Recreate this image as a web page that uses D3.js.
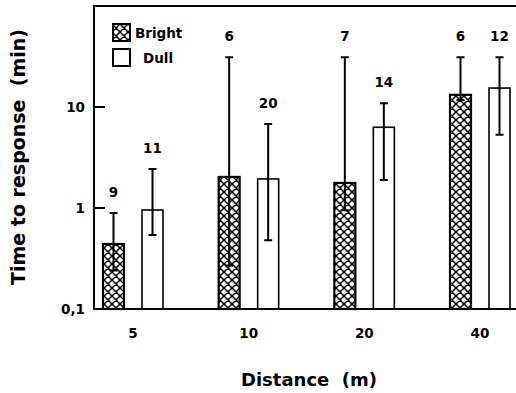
<!DOCTYPE html>
<html>
<head>
<meta charset="utf-8">
<script src="https://cdn.jsdelivr.net/npm/d3@7"></script>
<style>
  html, body { margin: 0; padding: 0; background: #fff; }
  text { font-family: "DejaVu Sans", sans-serif; font-weight: bold; fill: #000; }
</style>
</head>
<body>
<svg id="chart"></svg>
<script>
const distances = ["5", "10", "20", "40"];
const brightMean = [0.44, 2.03, 1.77, 13.2];
const brightLow = [0.24, 0.27, 0.95, 11.7];
const brightHigh = [0.89, 31, 31, 31];
const brightN = [9, 6, 7, 6];
const dullMean = [0.955, 1.94, 6.3, 15.4];
const dullLow = [0.54, 0.48, 1.89, 5.3];
const dullHigh = [2.43, 6.8, 10.9, 31];
const dullN = [11, 20, 14, 12];
const yTicks = [0.1, 1, 10];
const yTickLabels = ["0,1", "1", "10"];

const width = 516, height = 393;
const plotLeft = 94, plotTop = 6, plotBottom = 309, plotRight = 520;

const $svg = d3.select("#chart")
  .attr("width", width)
  .attr("height", height)
  .attr("viewBox", [0, 0, width, height]);

// crosshatch for the "Bright" bars
const pat = $svg.append("defs").append("pattern")
  .attr("id", "hatch")
  .attr("patternUnits", "userSpaceOnUse")
  .attr("width", 8)
  .attr("height", 8);
pat.append("rect").attr("width", 8).attr("height", 8).attr("fill", "#fff");
pat.append("path")
  .attr("d", "M0,0L8,8M8,0L0,8M-1,7L1,9M7,-1L9,1M-1,1L1,-1M7,9L9,7")
  .attr("stroke", "#000")
  .attr("stroke-width", 1.5);

const x = d3.scalePoint().domain(distances).range([133, 480]);
const y = d3.scaleLog().domain([0.1, 100]).range([plotBottom, plotTop]);

const series = [
  { key: "Bright", mean: brightMean, low: brightLow, high: brightHigh, n: brightN, dx: -30, fill: "url(#hatch)", sw: 2.2 },
  { key: "Dull", mean: dullMean, low: dullLow, high: dullHigh, n: dullN, dx: 9, fill: "#fff", sw: 1.6 }
];
const barW = 21, capW = 8;

series.forEach(s => {
  const rows = distances.map((d, i) => ({ d, mean: s.mean[i], low: s.low[i], high: s.high[i], n: s.n[i] }));
  const g = $svg.append("g");

  g.selectAll("rect").data(rows).enter().append("rect")
    .attr("x", r => x(r.d) + s.dx)
    .attr("y", r => y(r.mean))
    .attr("width", barW)
    .attr("height", r => plotBottom - y(r.mean))
    .attr("fill", s.fill)
    .attr("stroke", "#000")
    .attr("stroke-width", s.sw);

  const cx = r => x(r.d) + s.dx + barW / 2;
  g.selectAll("path.err").data(rows).enter().append("path")
    .attr("class", "err")
    .attr("fill", "none")
    .attr("stroke", "#000")
    .attr("stroke-width", 2)
    .attr("d", r => {
      const c = cx(r), hi = y(r.high), lo = y(r.low);
      return `M${c},${hi}V${lo}M${c - capW / 2},${hi}H${c + capW / 2}M${c - capW / 2},${lo}H${c + capW / 2}`;
    });

  g.selectAll("text").data(rows).enter().append("text")
    .attr("x", cx)
    .attr("y", r => y(r.high) - 16)
    .attr("text-anchor", "middle")
    .attr("font-size", 13.5)
    .text(r => r.n);
});

// frame
$svg.append("path")
  .attr("d", `M${plotRight},${plotTop}H${plotLeft}V${plotBottom}H${plotRight}`)
  .attr("fill", "none")
  .attr("stroke", "#000")
  .attr("stroke-width", 2);

// y axis ticks (inward) and labels
const yg = $svg.append("g");
yg.selectAll("line").data(yTicks.slice(1)).enter().append("line")
  .attr("x1", plotLeft).attr("x2", plotLeft + 11)
  .attr("y1", d => y(d)).attr("y2", d => y(d))
  .attr("stroke", "#000").attr("stroke-width", 2);
yg.selectAll("text").data(yTicks).enter().append("text")
  .attr("x", 85)
  .attr("y", d => y(d))
  .attr("dy", "0.35em")
  .attr("text-anchor", "end")
  .attr("font-size", 13.5)
  .text((d, i) => yTickLabels[i]);

// x labels
$svg.append("g").selectAll("text").data(distances).enter().append("text")
  .attr("x", d => x(d))
  .attr("y", 338)
  .attr("text-anchor", "middle")
  .attr("font-size", 13.5)
  .text(d => d);

// axis titles
$svg.append("text")
  .attr("x", 309).attr("y", 386)
  .attr("text-anchor", "middle")
  .attr("font-size", 18)
  .attr("xml:space", "preserve")
  .text("Distance  (m)");
$svg.append("text")
  .attr("transform", "translate(25,157) rotate(-90)")
  .attr("text-anchor", "middle")
  .attr("font-size", 19)
  .attr("xml:space", "preserve")
  .text("Time to response  (min)");

// legend
const legend = $svg.append("g");
legend.selectAll("rect").data(series).enter().append("rect")
  .attr("x", 113)
  .attr("y", (s, i) => 24 + i * 25)
  .attr("width", 17).attr("height", 17)
  .attr("fill", s => s.fill)
  .attr("stroke", "#000")
  .attr("stroke-width", 2);
legend.selectAll("text").data(series).enter().append("text")
  .attr("x", (s, i) => i === 0 ? 135 : 143)
  .attr("y", (s, i) => 33 + i * 25)
  .attr("dy", "0.35em")
  .attr("font-size", 13.5)
  .text(s => s.key);
</script>
</body>
</html>
